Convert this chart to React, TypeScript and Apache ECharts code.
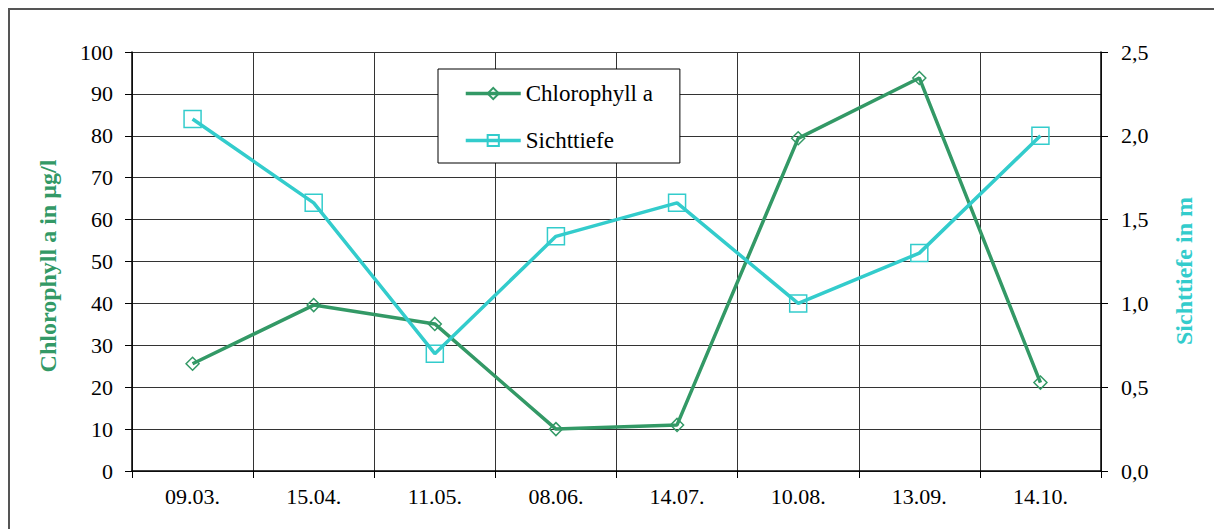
import React, { useEffect, useRef } from "react";
import * as echarts from "echarts";

const categories = ["09.03.", "15.04.", "11.05.", "08.06.", "14.07.", "10.08.", "13.09.", "14.10."];
const chlorophyll = [25.6, 39.6, 35.1, 10.0, 11.0, 79.4, 93.8, 21.1];
const sichttiefe = [2.1, 1.6, 0.7, 1.4, 1.6, 1.0, 1.3, 2.0];
const leftAxisName = "Chlorophyll a in µg/l";
const rightAxisName = "Sichttiefe in m";

const FONT = "Liberation Serif";
const GREEN = "#339966";
const TURQ = "#33CCCC";

export default function App() {
  const ref = useRef<HTMLDivElement>(null);
  useEffect(() => {
    document.body.style.margin = "0";
    const chart = echarts.init(ref.current!, null, { renderer: "svg" });
    chart.setOption({
      animation: false,
      backgroundColor: "#fff",
      textStyle: { fontFamily: FONT },
      graphic: [
        {
          type: "rect",
          shape: { x: 9, y: 9, width: 1400, height: 700 },
          style: { fill: "none", stroke: "#555", lineWidth: 2 },
          silent: true,
          z: 0,
        },
        {
          type: "text",
          x: 48,
          y: 266,
          rotation: Math.PI / 2,
          style: {
            text: leftAxisName,
            fontFamily: FONT,
            fontSize: 24,
            fontWeight: "bold",
            fill: GREEN,
            align: "center",
            verticalAlign: "middle",
          },
        },
        {
          type: "text",
          x: 1184,
          y: 271,
          rotation: Math.PI / 2,
          style: {
            text: rightAxisName,
            fontFamily: FONT,
            fontSize: 24,
            fontWeight: "bold",
            fill: TURQ,
            align: "center",
            verticalAlign: "middle",
          },
        },
      ],
      grid: { left: 132, right: 113, top: 52, bottom: 58 },
      legend: {
        orient: "vertical",
        left: 438,
        top: 69,
        backgroundColor: "#fff",
        borderColor: "#000",
        borderWidth: 1,
        padding: [13, 27, 11, 26],
        itemGap: 24,
        itemWidth: 55,
        itemHeight: 14,
        lineStyle: { width: 3.5 },
        textStyle: { fontFamily: FONT, fontSize: 23, color: "#000", lineHeight: 20 },
        data: ["Chlorophyll a", "Sichttiefe"],
        z: 10,
      },
      xAxis: {
        type: "category",
        data: categories,
        boundaryGap: true,
        axisLine: { lineStyle: { color: "#000", width: 1.5 } },
        axisTick: { show: true, length: 7, lineStyle: { color: "#000" } },
        axisLabel: { fontFamily: FONT, fontSize: 22, color: "#000", margin: 14 },
        splitLine: { show: true, lineStyle: { color: "#333", width: 1 } },
      },
      yAxis: [
        {
          type: "value",
          position: "left",
          min: 0,
          max: 100,
          interval: 10,
          axisLine: { show: true, lineStyle: { color: "#000", width: 1.5 } },
          axisTick: { show: true, length: 7, lineStyle: { color: "#000" } },
          axisLabel: { fontFamily: FONT, fontSize: 22, color: "#000", margin: 19 },
          splitLine: { show: true, lineStyle: { color: "#333", width: 1 } },
        },
        {
          type: "value",
          position: "right",
          min: 0,
          max: 2.5,
          interval: 0.5,
          axisLine: { show: true, lineStyle: { color: "#000", width: 1.5 } },
          axisTick: { show: true, length: 7, lineStyle: { color: "#000" } },
          axisLabel: {
            fontFamily: FONT,
            fontSize: 22,
            color: "#000",
            margin: 20,
            formatter: (v: number) => v.toFixed(1).replace(".", ","),
          },
          splitLine: { show: false },
        },
      ],
      series: [
        {
          name: "Chlorophyll a",
          type: "line",
          yAxisIndex: 0,
          data: chlorophyll,
          symbol: "diamond",
          symbolSize: 13,
          showAllSymbol: true,
          lineStyle: { color: GREEN, width: 3.5 },
          itemStyle: { color: "rgba(255,255,255,0)", borderColor: GREEN, borderWidth: 1.5 },
          z: 3,
        },
        {
          name: "Sichttiefe",
          type: "line",
          yAxisIndex: 1,
          data: sichttiefe,
          symbol: "rect",
          symbolSize: 17,
          showAllSymbol: true,
          lineStyle: { color: TURQ, width: 3.5 },
          itemStyle: { color: "rgba(255,255,255,0)", borderColor: TURQ, borderWidth: 1.5 },
          z: 4,
        },
      ],
    });
    return () => chart.dispose();
  }, []);
  return <div ref={ref} style={{ width: 1214, height: 529 }} />;
}
